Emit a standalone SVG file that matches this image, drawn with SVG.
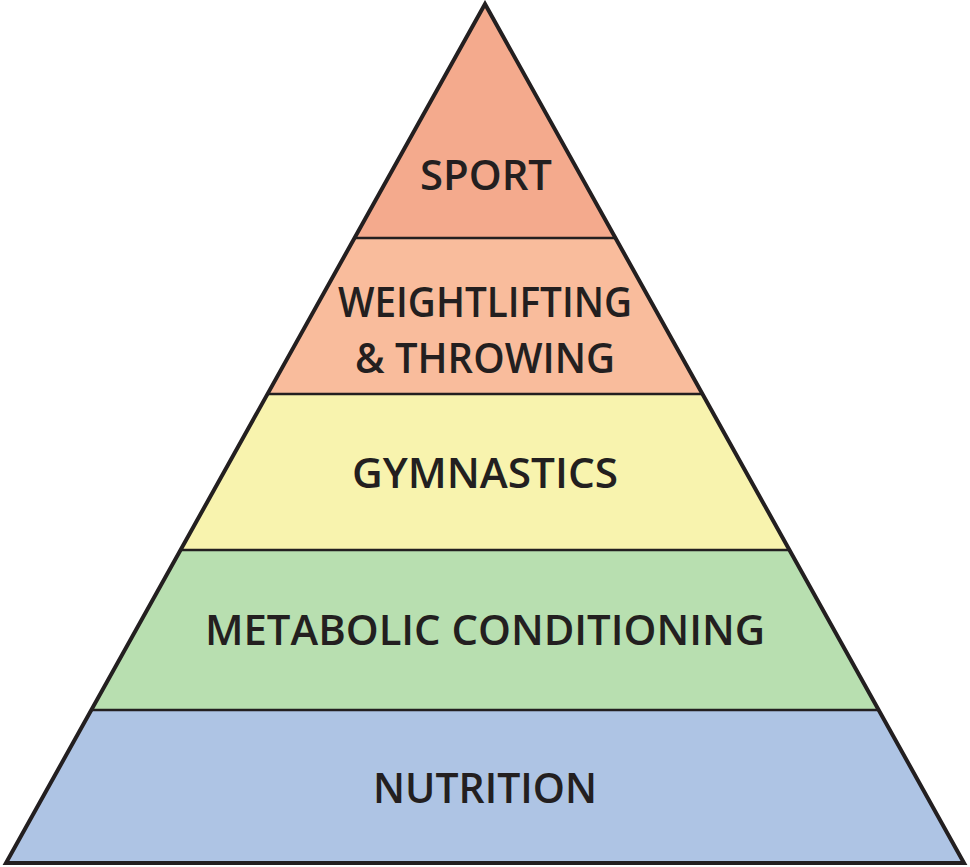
<svg xmlns="http://www.w3.org/2000/svg" width="970" height="867" viewBox="0 0 970 867">
<style>
.band{stroke:none}
.edge{fill:none;stroke:#231f20;stroke-width:4;stroke-linejoin:miter}
.div{stroke:#231f20;stroke-width:2.5}
.lbl{font-family:"Open Sans","Liberation Sans",sans-serif;font-weight:600;font-size:42px;fill:#231f20;text-anchor:middle}
</style>
<rect width="970" height="867" fill="#ffffff"/>
<g id="nutrition">
<polygon class="band" points="90.5,710 879.5,710 964,863 6,863" fill="#aec4e4"/>
<text class="lbl" x="485" y="803" textLength="224" lengthAdjust="spacingAndGlyphs">NUTRITION</text>
</g>
<g id="metabolic">
<polygon class="band" points="180,550 790,550 879.5,710 90.5,710" fill="#b8dfb0"/>
<text class="lbl" x="485" y="645" textLength="560" lengthAdjust="spacingAndGlyphs">METABOLIC CONDITIONING</text>
</g>
<g id="gymnastics">
<polygon class="band" points="267,394 703,394 790,550 180,550" fill="#f8f3ae"/>
<text class="lbl" x="485" y="488" textLength="266" lengthAdjust="spacingAndGlyphs">GYMNASTICS</text>
</g>
<g id="weightlifting">
<polygon class="band" points="354,238 615,238 703,394 267,394" fill="#f9bc9c"/>
<text class="lbl" x="485" y="317" textLength="294" lengthAdjust="spacingAndGlyphs">WEIGHTLIFTING</text>
<text class="lbl" x="485" y="373" textLength="260" lengthAdjust="spacingAndGlyphs">&amp; THROWING</text>
</g>
<g id="sport">
<polygon class="band" points="485,4 615,238 354,238" fill="#f4aa8d"/>
<text class="lbl" x="486" y="190" textLength="132" lengthAdjust="spacingAndGlyphs">SPORT</text>
</g>
<g id="connectors">
<line class="div" x1="354" y1="238" x2="615" y2="238"/>
<line class="div" x1="267" y1="394" x2="703" y2="394"/>
<line class="div" x1="180" y1="550" x2="790" y2="550"/>
<line class="div" x1="90.5" y1="710" x2="879.5" y2="710"/>
<polygon class="edge" points="485,4 964,863 6,863"/>
</g>
</svg>
